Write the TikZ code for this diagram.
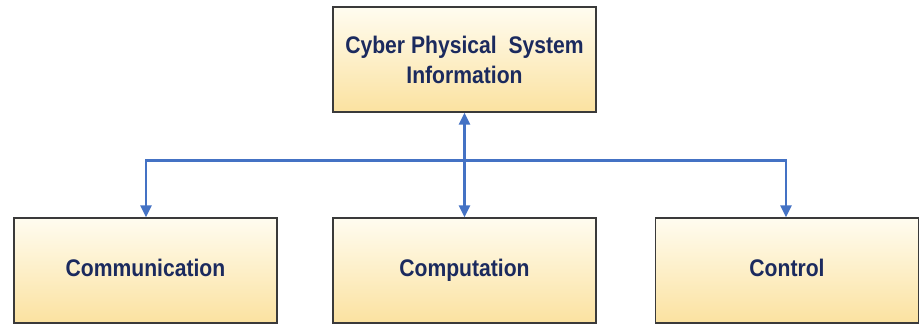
\documentclass[tikz,border=0pt]{standalone}
\usepackage{fontspec}
\setmainfont{Liberation Sans}[FakeStretch=0.88]
\usetikzlibrary{arrows.meta}
\definecolor{boxtop}{HTML}{FFFCF0}
\definecolor{boxbot}{HTML}{FBE2A0}
\definecolor{boxline}{HTML}{3A3A3A}
\definecolor{txt}{HTML}{1B2A5E}
\definecolor{arr}{HTML}{4472C4}
\begin{document}
\begin{tikzpicture}[x=1pt,y=-1pt,
  blockbox/.style={draw=boxline,line width=1.4pt,top color=boxtop,bottom color=boxbot,
    minimum width=263pt,minimum height=105pt,inner sep=0pt,align=center,
    font=\fontsize{24}{30}\selectfont\bfseries,text=txt},
  lowbox/.style={blockbox,text height=17pt,text depth=5pt},
  link/.style={draw=arr,line width=2.5pt,-{Triangle[length=12pt,width=11pt]}}]
\useasboundingbox (0,0) rectangle (920,324);
\node[blockbox] (cps) at (464.5,59.5) {Cyber Physical\ \ System\\Information};
\node[lowbox] (comm) at (145.5,270.5) {Communication};
\node[lowbox] (comp) at (464.5,270.5) {Computation};
\node[lowbox] (ctrl) at (787,270.5) {Control};
\coordinate (hub) at (464.5,160.5);
\coordinate (lc) at (146,160.5);
\coordinate (rc) at (786,160.5);
\draw[link] (hub) -- (cps.south);
\draw[link] (hub) -- (comp.north);
\draw[link] (hub) -- (lc) -- (comm.north -| lc);
\draw[link] (hub) -- (rc) -- (ctrl.north -| rc);
\end{tikzpicture}
\end{document}
